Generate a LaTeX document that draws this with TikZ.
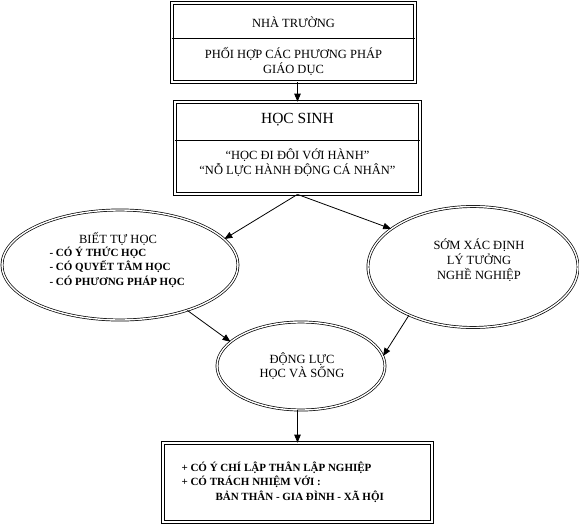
\documentclass[tikz,border=0pt]{standalone}
\usepackage{fontspec}
\setmainfont{Liberation Serif}
\usepackage{tikz}
\usetikzlibrary{arrows,shapes.geometric,positioning,calc}

\tikzset{
  dbox/.style={draw,double,line width=.8pt,double distance=1.6pt,inner sep=0pt},
  dellipse/.style={ellipse,draw,double,line width=.7pt,double distance=1.4pt,inner sep=0pt},
  txt/.style={align=center,font=\fontsize{12.5}{15}\selectfont},
  btxt/.style={align=left,font=\fontsize{11}{14.5}\selectfont\bfseries},
  conn/.style={line width=.8pt,-triangle 45}
}

\begin{document}
\begin{tikzpicture}[x=1pt,y=-1pt]
      \useasboundingbox (0,0) rectangle (579,525);
      \node[dbox,minimum width=243,minimum height=79] (school) at (293.5,42.5) {};
      \node[txt] (schooltitle) at (293.5,22) {NHÀ TRƯỜNG};
      \node[txt] (schoolmethod) at (293.5,61) {PHỐI HỢP CÁC PHƯƠNG PHÁP\\GIÁO DỤC};
      \draw[line width=.7pt] (school.west |- 0,38) -- (school.east |- 0,38);

      \node[dbox,minimum width=245,minimum height=92] (student) at (297.5,148) {};
      \node[txt,font=\fontsize{15.5}{18}\selectfont] (studenttitle) at (297.5,120) {HỌC SINH};
      \node[txt] (studentmotto) at (297.5,163) {“HỌC ĐI ĐÔI VỚI HÀNH”\\“NỖ LỰC HÀNH ĐỘNG CÁ NHÂN”};
      \draw[line width=.7pt] (student.west |- 0,140) -- (student.east |- 0,140);

      \node[dellipse,minimum width=236,minimum height=110] (selfstudy) at (120,265) {};
      \node[txt] (selfstudytitle) at (118,239) {BIẾT TỰ HỌC};
      \node[btxt,anchor=west] (selfstudylist) at (46,267) {- CÓ Ý THỨC HỌC\\- CÓ QUYẾT TÂM HỌC\\- CÓ PHƯƠNG PHÁP HỌC};

      \node[dellipse,minimum width=210,minimum height=121,txt] (career) at (473,267) {};
      \node[txt] (careertext) at (479,260) {SỚM XÁC ĐỊNH\\LÝ TƯỞNG\\NGHỀ NGHIỆP};

      \node[dellipse,minimum width=168,minimum height=88] (motive) at (301,366) {};
      \node[txt,font=\fontsize{12.5}{13.5}\selectfont] (motivetext) at (302,366) {ĐỘNG LỰC\\HỌC VÀ SỐNG};

      \node[dbox,minimum width=269,minimum height=79] (outcome) at (297.5,482.5) {};
      \node[btxt,anchor=west] (outcometext) at (178,482) {+ CÓ Ý CHÍ LẬP THÂN LẬP NGHIỆP\\+ CÓ TRÁCH NHIỆM VỚI :\\\hspace{34pt}BẢN THÂN - GIA ĐÌNH - XÃ HỘI};

      \draw[conn] (school.south -| student.north) -- (student.north);
      \draw[conn] (student.south) -- (selfstudy.14);
      \draw[conn] (student.south) -- (career.155);
      \draw[conn] (selfstudy.-34) -- (motive.161);
      \draw[conn] (career.217) -- (motive.7);
      \draw[conn] (motive.south -| outcome.north) -- (outcome.north);
    \end{tikzpicture}
\end{document}
